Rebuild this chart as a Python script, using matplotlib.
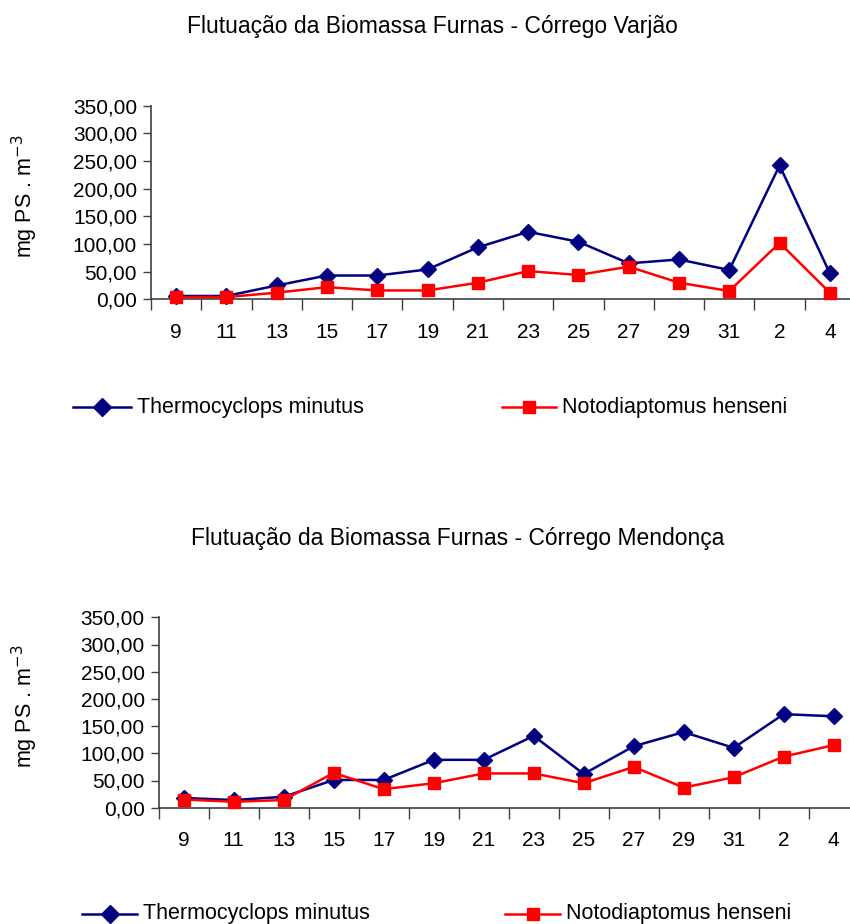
import matplotlib
matplotlib.use("Agg")
import matplotlib.pyplot as plt
from matplotlib.lines import Line2D
from matplotlib.ticker import FuncFormatter, FixedLocator
import numpy as np

plt.rcParams['font.family'] = ['Liberation Sans', 'DejaVu Sans']

days = ["9", "11", "13", "15", "17", "19", "21", "23", "25", "27", "29", "31", "2", "4"]

varjao_thermo = [6, 6, 25, 43, 43, 54, 94, 122, 104, 65, 72, 53, 242, 47]
varjao_noto = [4, 4, 12, 22, 16, 16, 30, 51, 44, 59, 30, 15, 102, 12]

mendonca_thermo = [18, 14, 20, 51, 51, 88, 88, 132, 62, 113, 139, 110, 172, 168]
mendonca_noto = [15, 11, 14, 64, 34, 45, 63, 63, 45, 75, 37, 56, 94, 115]

titles = ["Flutuação da Biomassa Furnas - Córrego Varjão",
          "Flutuação da Biomassa Furnas - Córrego Mendonça"]
series_labels = ["Thermocyclops minutus", "Notodiaptomus henseni"]
ylabel = "mg PS . m$^{-3}$"
yticks = [0, 50, 100, 150, 200, 250, 300, 350]

W, H = 850, 924
fig = plt.figure(figsize=(W / 100, H / 100), dpi=100)

BLUE = "#000080"
RED = "#FF0000"
AX = "#404040"
TICK_FS = 15
TITLE_FS = 16.5
LEG_FS = 15.5
YLAB_FS = 15.5

def px_rect(x0, y_top, x1, y_bot):
    return [x0 / W, 1 - y_bot / H, (x1 - x0) / W, (y_bot - y_top) / H]

panels = [
    dict(rect=px_rect(151, 105.7, 855, 299.3), t=varjao_thermo, n=varjao_noto,
         title=titles[0], title_xy=(432, 27), ylab_y=196, leg_y=407,
         leg1=(73, 131), leg2=(502, 556)),
    dict(rect=px_rect(158.7, 617.3, 858.7, 807.7), t=mendonca_thermo, n=mendonca_noto,
         title=titles[1], title_xy=(458, 538), ylab_y=706, leg_y=914,
         leg1=(82, 137), leg2=(505, 560)),
]

for p in panels:
    ax = fig.add_axes(p["rect"])
    x = np.arange(len(days))
    ax.plot(x, p["t"], color=BLUE, lw=1.8, marker="D", ms=8.5, mfc=BLUE, mec=BLUE, clip_on=False, zorder=3)
    ax.plot(x, p["n"], color=RED, lw=1.8, marker="s", ms=8, mfc=RED, mec=RED, clip_on=False, zorder=4)
    ax.set_xlim(-0.5, len(days) - 0.5)
    ax.set_ylim(0, 350)
    ax.set_yticks(yticks)
    ax.yaxis.set_major_formatter(FuncFormatter(lambda v, pos: f"{v:.2f}".replace(".", ",")))
    ax.set_xticks(x)
    ax.set_xticklabels(days)
    ax.xaxis.set_minor_locator(FixedLocator(np.arange(-0.5, len(days), 1.0)))
    ax.tick_params(axis="x", which="major", length=0, pad=17, labelsize=TICK_FS)
    ax.tick_params(axis="x", which="minor", length=8, width=1, color=AX, direction="out")
    ax.tick_params(axis="y", which="major", length=6, width=1, color=AX, direction="out", labelsize=TICK_FS, pad=4)
    for s in ["top", "right"]:
        ax.spines[s].set_visible(False)
    for s in ["left", "bottom"]:
        ax.spines[s].set_color(AX)
        ax.spines[s].set_linewidth(1.2)
    ax.set_facecolor("none")

    fig.text(p["title_xy"][0] / W, 1 - p["title_xy"][1] / H, p["title"], ha="center", va="center", fontsize=TITLE_FS)
    fig.text(25 / W, 1 - p["ylab_y"] / H, ylabel, rotation=90, ha="center", va="center", fontsize=YLAB_FS)

    ly = 1 - p["leg_y"] / H
    for (x0, x1), col, mk, ms, lab in [(p["leg1"], BLUE, "D", 9, series_labels[0]),
                                       (p["leg2"], RED, "s", 8, series_labels[1])]:
        fig.add_artist(Line2D([x0 / W, x1 / W], [ly, ly], transform=fig.transFigure, color=col, lw=1.8))
        fig.add_artist(Line2D([(x0 + x1) / 2 / W], [ly], transform=fig.transFigure, color=col,
                              marker=mk, ms=ms, mfc=col, mec=col))
        fig.text((x1 + 6) / W, ly, lab, ha="left", va="center", fontsize=LEG_FS)

fig.savefig("out.png", dpi=100)
